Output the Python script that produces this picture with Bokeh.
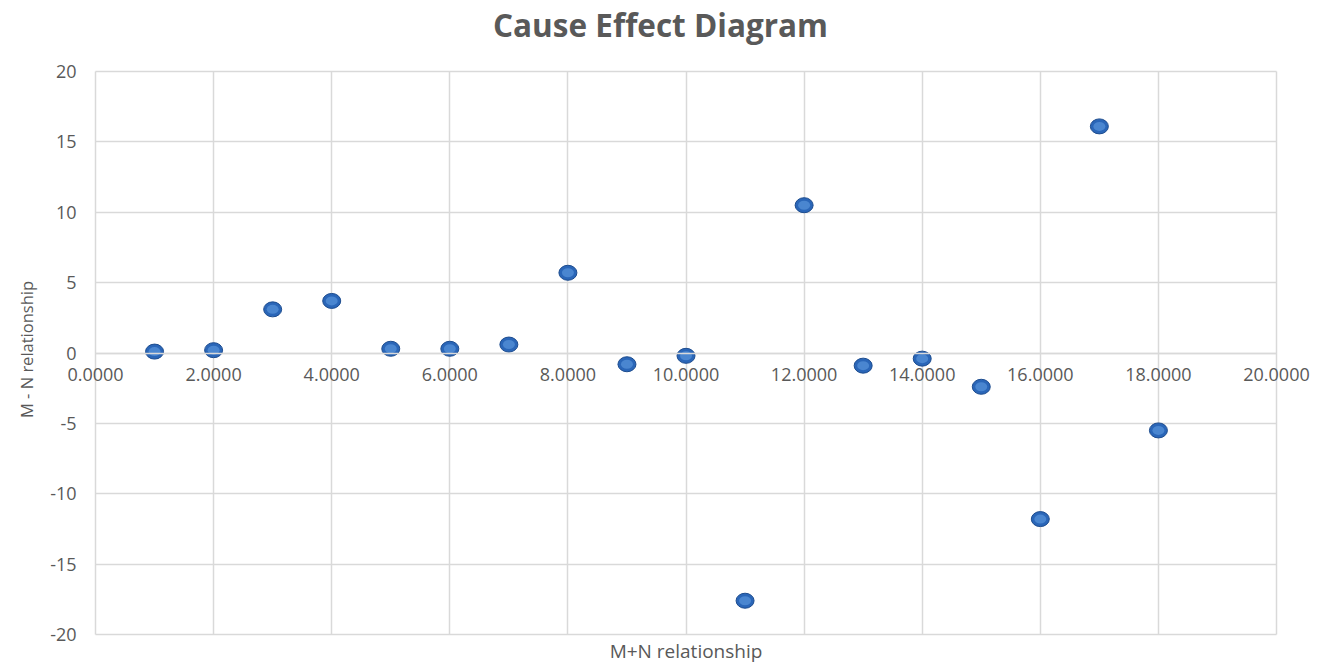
import math
from bokeh.plotting import figure
from bokeh.models import FixedTicker, NumeralTickFormatter, Range1d, LinearAxis, Label
from bokeh.embed import file_html
from bokeh.resources import INLINE

# data
mn_sum = [1, 2, 3, 4, 5, 6, 7, 8, 9, 10, 11, 12, 13, 14, 15, 16, 17, 18]
mn_diff = [0.1, 0.2, 3.1, 3.7, 0.3, 0.3, 0.6, 5.7, -0.8, -0.2, -17.6, 10.5,
           -0.9, -0.4, -2.4, -11.8, 16.1, -5.5]
x_ticks = [0, 2, 4, 6, 8, 10, 12, 14, 16, 18, 20]
y_ticks = [-20, -15, -10, -5, 0, 5, 10, 15, 20]
title_text = "Cause Effect Diagram"
x_title = "M+N relationship"
y_title = "M - N relationship"

TXT = "#595959"
FONT = "Open Sans"
GRID = "#d9d9d9"

W, H = 1318, 665
# frame covers the whole canvas; ranges padded so that the 0..20 / -20..20
# chart box sits where the reference draws it
X0, X1 = -1.609, 20.711
Y0, Y1 = -22.202, 25.044


def px_to_x(px):
    return X0 + px / W * (X1 - X0)


def px_to_y(py):
    return Y1 - py / H * (Y1 - Y0)


p = figure(width=W, height=H, output_backend="svg", toolbar_location=None,
           x_range=Range1d(X0, X1), y_range=Range1d(Y0, Y1),
           x_axis_location=None, y_axis_location=None,
           min_border_left=0, min_border_right=0, min_border_top=0,
           min_border_bottom=0)
p.outline_line_color = None

# titles
p.add_layout(Label(x=px_to_x(660), y=px_to_y(24), text=title_text,
                   text_align="center", text_baseline="middle", text_font=FONT,
                   text_font_size="31.5px", text_font_style="bold",
                   text_color=TXT))
p.add_layout(Label(x=10, y=px_to_y(650), text=x_title, text_align="center",
                   text_baseline="middle", text_font=FONT,
                   text_font_size="19px", text_color=TXT))
p.add_layout(Label(x=px_to_x(26), y=px_to_y(349), text=y_title,
                   angle=math.pi / 2, text_align="center",
                   text_baseline="middle", text_font=FONT,
                   text_font_size="16.5px", text_color=TXT))

# y axis crossing at x=0
yaxis = LinearAxis(ticker=FixedTicker(ticks=y_ticks), fixed_location=0,
                   formatter=NumeralTickFormatter(format="0"), bounds=(-20, 20))
yaxis.axis_line_color = None
yaxis.major_tick_line_color = None
yaxis.minor_tick_line_color = None
yaxis.major_label_standoff = 13
yaxis.major_label_text_font = FONT
yaxis.major_label_text_font_size = "18px"
yaxis.major_label_text_color = TXT
p.add_layout(yaxis, "left")

# x axis crossing at y=0
xaxis = LinearAxis(ticker=FixedTicker(ticks=x_ticks), fixed_location=0,
                   formatter=NumeralTickFormatter(format="0.0000"), bounds=(0, 20))
xaxis.axis_line_color = GRID
xaxis.axis_line_width = 1.5
xaxis.major_tick_line_color = None
xaxis.minor_tick_line_color = None
xaxis.major_label_standoff = 9
xaxis.major_label_text_font = FONT
xaxis.major_label_text_font_size = "18px"
xaxis.major_label_text_color = TXT
p.add_layout(xaxis, "below")

p.xgrid.ticker = FixedTicker(ticks=x_ticks)
p.ygrid.ticker = FixedTicker(ticks=y_ticks)
p.xgrid.bounds = (0, 20)
p.xgrid.cross_bounds = (-20, 20)
p.ygrid.bounds = (-20, 20)
p.ygrid.cross_bounds = (0, 20)
for g in (p.xgrid, p.ygrid):
    g.grid_line_color = GRID
    g.grid_line_width = 1.5

p.ellipse(x=mn_sum, y=mn_diff, width=18, height=15, width_units="screen",
          height_units="screen", fill_color="#2a66b8", line_color="#1d4c8e",
          line_width=1)
p.ellipse(x=mn_sum, y=mn_diff, width=12, height=9, width_units="screen",
          height_units="screen", fill_color="#6aa5e8", fill_alpha=0.5,
          line_color=None)

open("out.html", "w").write(file_html(p, INLINE))
